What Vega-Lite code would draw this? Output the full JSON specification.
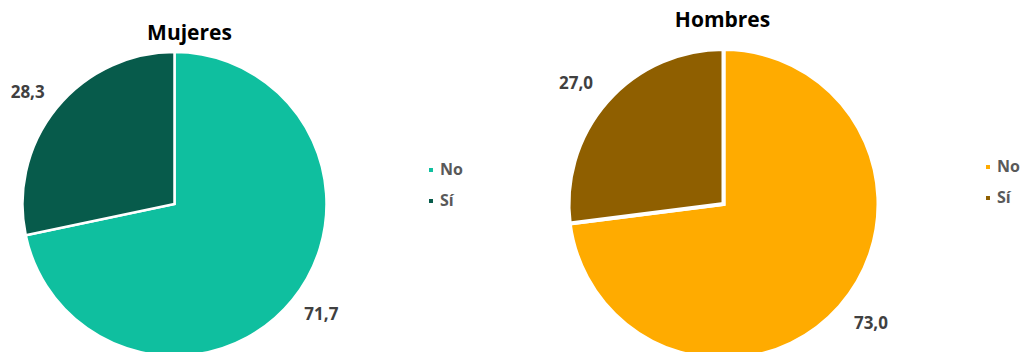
{
  "$schema": "https://vega.github.io/schema/vega-lite/v6.json",
  "padding": {"left": 0, "top": 10, "right": 0, "bottom": 0},
  "background": "white",
  "config": {
    "view": {"stroke": null},
    "locale": {"number": {"decimal": ",", "thousands": ".", "grouping": [3], "currency": ["", " €"]}},
    "font": "Open Sans",
    "title": {"fontSize": 21, "fontWeight": "bold", "color": "#000000", "font": "Open Sans"},
    "legend": {"labelFont": "Open Sans", "labelFontSize": 16, "labelFontWeight": "bold", "labelColor": "#595959", "symbolType": "square", "symbolSize": 30, "rowPadding": 15, "labelOffset": 1}
  },
  "datasets": {
    "d": [
      {"grupo": "Mujeres", "respuesta": "No", "valor": 71.7},
      {"grupo": "Mujeres", "respuesta": "Sí", "valor": 28.3},
      {"grupo": "Hombres", "respuesta": "No", "valor": 73.0},
      {"grupo": "Hombres", "respuesta": "Sí", "valor": 27.0}
    ]
  },
  "hconcat": [
    {
      "data": {"name": "d"},
      "transform": [{"filter": "datum.grupo === 'Mujeres'"}],
      "title": {"text": "Mujeres", "offset": 3, "dx": 15},
      "width": 349,
      "height": 308,
      "encoding": {
        "theta": {"field": "valor", "type": "quantitative", "stack": true},
        "order": {"field": "respuesta", "sort": "ascending"}
      },
      "layer": [
        {
          "mark": {"type": "arc", "outerRadius": 152, "stroke": "white", "strokeWidth": 2.5},
          "encoding": {
            "color": {
              "field": "respuesta", "type": "nominal",
              "scale": {"domain": ["No", "Sí"], "range": ["#0FBF9F", "#075B4B"]},
              "legend": {"title": null, "orient": "none", "legendX": 423, "legendY": 112}
            }
          }
        },
        {
          "mark": {"type": "text", "radius": 184, "thetaOffset": -0.035, "fontSize": 17, "fontWeight": "bold", "color": "#404040", "font": "Open Sans"},
          "encoding": {
            "detail": {"field": "respuesta"},
            "text": {"field": "valor", "type": "quantitative", "format": ".1f"}
          }
        }
      ]
    },
    {
      "data": {"name": "d"},
      "transform": [{"filter": "datum.grupo === 'Hombres'"}],
      "title": {"text": "Hombres", "offset": 10, "dx": -1},
      "width": 349,
      "height": 308,
      "encoding": {
        "theta": {"field": "valor", "type": "quantitative", "stack": true},
        "order": {"field": "respuesta", "sort": "ascending"}
      },
      "layer": [
        {
          "mark": {"type": "arc", "outerRadius": 155, "stroke": "white", "strokeWidth": 4},
          "encoding": {
            "color": {
              "field": "respuesta", "type": "nominal",
              "scale": {"domain": ["No", "Sí"], "range": ["#FFAB00", "#8F5F00"]},
              "legend": {"title": null, "orient": "none", "legendX": 431, "legendY": 109}
            }
          }
        },
        {
          "mark": {"type": "text", "radius": 190, "thetaOffset": -0.04, "fontSize": 17, "fontWeight": "bold", "color": "#404040", "font": "Open Sans"},
          "encoding": {
            "detail": {"field": "respuesta"},
            "text": {"field": "valor", "type": "quantitative", "format": ".1f"}
          }
        }
      ]
    }
  ],
  "spacing": 200,
  "bounds": "flush",
  "resolve": {"scale": {"color": "independent", "theta": "independent"}}
}
